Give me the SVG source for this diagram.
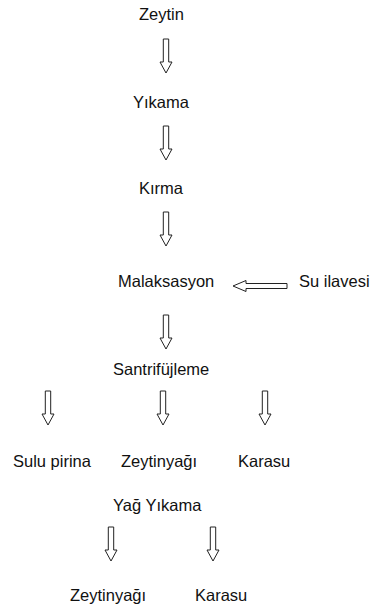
<svg xmlns="http://www.w3.org/2000/svg" width="373" height="605" viewBox="0 0 373 605">
  <style>
    .lbl { font-family: "Liberation Sans", Arial, sans-serif; font-size: 16.5px; fill: #111; }
    .arr { fill: #fff; stroke: #222; stroke-width: 1; stroke-linejoin: miter; }
  </style>
  <defs>
    <!-- hollow block arrow pointing down, origin at top centre -->
    <path id="down" d="M -2.7 0 H 2.7 V 23 H 6 L 0 34 L -6 23 H -2.7 Z"/>
  </defs>
  <rect width="373" height="605" fill="#fff"/>

  <g id="connectors" class="arr">
    <use href="#down" x="166" y="39"/>
    <use href="#down" x="166" y="126"/>
    <use href="#down" x="166" y="212"/>
    <use href="#down" x="166" y="315"/>
    <use href="#down" x="48" y="391"/>
    <use href="#down" x="163" y="391"/>
    <use href="#down" x="265" y="391"/>
    <use href="#down" x="111" y="527"/>
    <use href="#down" x="213" y="527"/>
    <path d="M 287 283.5 V 288.5 H 246 V 291.5 L 233 286 L 246 280.5 V 283.5 Z"/>
  </g>

  <g id="zeytin"><text class="lbl" x="139" y="20">Zeytin</text></g>
  <g id="yikama"><text class="lbl" x="133" y="108">Yıkama</text></g>
  <g id="kirma"><text class="lbl" x="139" y="194">Kırma</text></g>
  <g id="malaksasyon"><text class="lbl" x="118" y="287">Malaksasyon</text></g>
  <g id="su-ilavesi"><text class="lbl" x="299" y="287">Su ilavesi</text></g>
  <g id="santrifujleme"><text class="lbl" x="113" y="375">Santrifüjleme</text></g>
  <g id="sulu-pirina"><text class="lbl" x="13" y="467">Sulu pirina</text></g>
  <g id="zeytinyagi-1"><text class="lbl" x="121" y="467">Zeytinyağı</text></g>
  <g id="karasu-1"><text class="lbl" x="238" y="467">Karasu</text></g>
  <g id="yag-yikama"><text class="lbl" x="113" y="511">Yağ Yıkama</text></g>
  <g id="zeytinyagi-2"><text class="lbl" x="70" y="601">Zeytinyağı</text></g>
  <g id="karasu-2"><text class="lbl" x="195" y="601">Karasu</text></g>
</svg>
